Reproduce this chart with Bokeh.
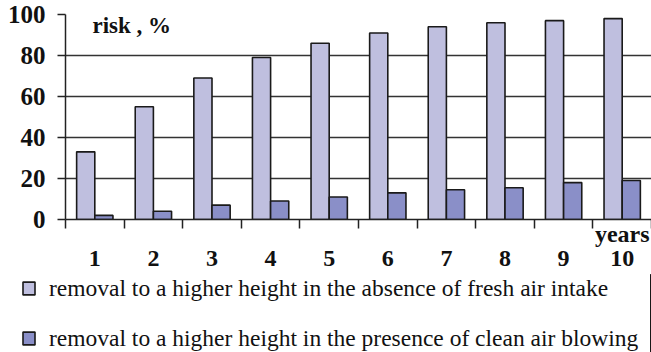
import numpy as np
from bokeh.plotting import figure
from bokeh.layouts import column
from bokeh.models import (FixedTicker, Label, Legend, LegendItem,
                          ColumnDataSource, Range1d)
from bokeh.transform import dodge
from bokeh.embed import file_html
from bokeh.resources import INLINE

# ---- data ----
years = ["1", "2", "3", "4", "5", "6", "7", "8", "9", "10"]
absence = [33, 55, 69, 79, 86, 91, 94, 96, 97, 98]
presence = [2, 4, 7, 9, 11, 13, 14.5, 15.5, 18, 19]
y_ticks = [0, 20, 40, 60, 80, 100]
series_labels = [
    "removal to a higher height in the absence of fresh air intake",
    "removal to a higher height in the presence of clean air blowing",
]
y_title = "risk , %"
x_title = "years"

FONT = "Liberation Serif"
LIGHT = "#BFBFDF"
DARK = "#8A8FC8"
EDGE = "#1a1a1a"

centers = np.arange(len(years)) + 0.5
source = ColumnDataSource(dict(x=centers, absence=absence, presence=presence))

p = figure(width=651, height=274,
           x_range=Range1d(0, len(years)), y_range=Range1d(0, 100),
           output_backend="svg", toolbar_location=None,
           min_border_left=65, min_border_right=0,
           min_border_top=14, min_border_bottom=53)
p.outline_line_color = None
p.background_fill_color = "white"

bw = 0.31
r1 = p.vbar(x=dodge("x", -bw / 2), top="absence", width=bw, source=source,
            fill_color=LIGHT, line_color=EDGE, line_width=1.6)
r2 = p.vbar(x=dodge("x", bw / 2), top="presence", width=bw, source=source,
            fill_color=DARK, line_color=EDGE, line_width=1.6)

# x axis: labels at category centres, tick marks at category boundaries;
# the axis title "years" sits above the last category label
labels = ["\n" + y for y in years]
labels[-1] = x_title + "\n" + years[-1]
xt = FixedTicker(ticks=list(centers), minor_ticks=list(range(len(years) + 1)))
p.xaxis.ticker = xt
p.xaxis.major_label_overrides = {float(c): t for c, t in zip(centers, labels)}
p.xaxis.major_tick_out = 0
p.xaxis.major_tick_in = 0
p.xaxis.minor_tick_out = 9
p.xaxis.minor_tick_in = 0
p.xaxis.minor_tick_line_color = "#222222"
p.xaxis.minor_tick_line_width = 1.5
p.xaxis.axis_line_color = "#222222"
p.xaxis.axis_line_width = 1.5
p.xaxis.major_label_standoff = -8
p.xaxis.major_label_text_font = FONT
p.xaxis.major_label_text_font_style = "bold"
p.xaxis.major_label_text_font_size = "24px"
p.xaxis.major_label_text_line_height = 0.95
p.xaxis.major_label_text_color = "#111111"
p.xgrid.visible = False

# y axis
p.yaxis.ticker = FixedTicker(ticks=y_ticks)
p.yaxis.major_tick_out = 8
p.yaxis.major_tick_in = 0
p.yaxis.minor_tick_line_color = None
p.yaxis.major_tick_line_color = "#222222"
p.yaxis.major_tick_line_width = 1.5
p.yaxis.axis_line_color = "#222222"
p.yaxis.axis_line_width = 1.5
p.yaxis.major_label_standoff = 12
p.yaxis.major_label_text_font = FONT
p.yaxis.major_label_text_font_style = "bold"
p.yaxis.major_label_text_font_size = "25px"
p.yaxis.major_label_text_color = "#111111"
p.ygrid.ticker = FixedTicker(ticks=y_ticks)
p.ygrid.grid_line_color = "#333333"
p.ygrid.grid_line_width = 1.5

p.add_layout(Label(x=0.46, y=94.5, text=y_title, text_font=FONT,
                   text_font_style="bold", text_font_size="23px",
                   text_color="#111111", text_baseline="alphabetic"))

# ---- legend strip below the chart ----
# its ranges lie outside the data, so the proxy bars themselves stay hidden
lg = figure(width=651, height=78, x_range=Range1d(-3, -2), y_range=Range1d(0, 1),
            output_backend="svg", toolbar_location=None,
            x_axis_location=None, y_axis_location=None,
            min_border_left=0, min_border_right=0,
            min_border_top=0, min_border_bottom=0)
lg.outline_line_color = None
lg.xgrid.visible = False
lg.ygrid.visible = False
k1 = lg.vbar(x="x", top="absence", width=bw, source=source,
             fill_color=LIGHT, line_color=EDGE, line_width=1.6)
k2 = lg.vbar(x="x", top="presence", width=bw, source=source,
             fill_color=DARK, line_color=EDGE, line_width=1.6)

legend = Legend(items=[LegendItem(label=series_labels[0], renderers=[k1]),
                       LegendItem(label=series_labels[1], renderers=[k2])],
                location=(21, 0), orientation="vertical",
                glyph_width=15, glyph_height=16, label_standoff=13,
                label_height=28, spacing=22, padding=0, margin=0,
                border_line_color=None, background_fill_alpha=0,
                label_text_font=FONT, label_text_font_size="23.5px",
                label_text_color="#111111")
lg.add_layout(legend, "center")

for fig in (p, lg):
    if "frame_align" in fig.properties():
        fig.frame_align = False

layout = column(p, lg, spacing=0)
open("out.html", "w").write(file_html(layout, INLINE))
